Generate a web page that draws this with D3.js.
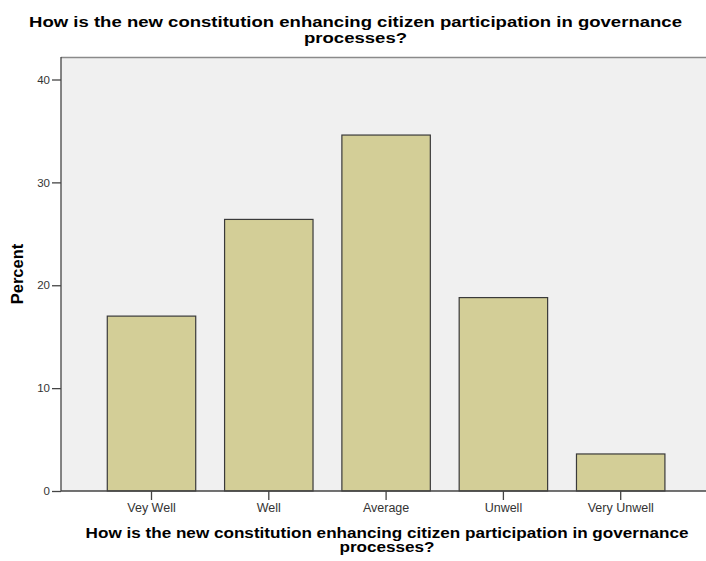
<!DOCTYPE html>
<html><head><meta charset="utf-8">
<script src="https://cdn.jsdelivr.net/npm/d3@7"></script>
<style>body{margin:0;background:#fff}svg{display:block}text{font-family:"Liberation Sans",Arial,sans-serif}</style>
</head><body>
<script>
const categories = ["Vey Well", "Well", "Average", "Unwell", "Very Unwell"];
const percents = [17.0, 26.4, 34.6, 18.8, 3.6];
const yTicks = [0, 10, 20, 30, 40];
const titleLines = ["How is the new constitution enhancing citizen participation in governance", "processes?"];
const yTitle = "Percent";

const W = 706, H = 561;
const svg = d3.select("body").append("svg").attr("width", W).attr("height", H);

const plot = {left: 61, right: 706, top: 57, bottom: 491};
const y = d3.scaleLinear().domain([0, 40]).range([491, 79.5]);
const x = d3.scaleBand().domain(categories).range([92.85, 679.35]).paddingInner(0.246).paddingOuter(0.123);

svg.append("rect").attr("x", plot.left).attr("y", plot.top)
  .attr("width", plot.right - plot.left).attr("height", plot.bottom - plot.top)
  .attr("fill", "#f0f0f0");
svg.append("line").attr("x1", plot.left).attr("x2", plot.right).attr("y1", plot.top + 0.5).attr("y2", plot.top + 0.5)
  .attr("stroke", "#8a8a8a").attr("stroke-width", 1.5);

svg.selectAll("rect.bar").data(percents).join("rect").attr("class", "bar")
  .attr("x", (d, i) => x(categories[i]))
  .attr("y", d => y(d))
  .attr("width", x.bandwidth())
  .attr("height", d => y(0) - y(d))
  .attr("fill", "#d3ce97").attr("stroke", "#3a3a3a").attr("stroke-width", 1.2);

const ff = '"Liberation Sans",Arial,sans-serif';
// y axis
const yAxis = svg.append("g").attr("transform", `translate(${plot.left},0)`)
  .call(d3.axisLeft(y).tickValues(yTicks).tickSize(9).tickPadding(2).tickFormat(d3.format("d")));
yAxis.select(".domain").attr("d", `M0,${plot.top}V${plot.bottom}`).attr("stroke", "#444").attr("stroke-width", 1.3);
yAxis.selectAll(".tick line").attr("stroke", "#444").attr("stroke-width", 1.3);
yAxis.selectAll(".tick text").attr("font-size", 11.5).attr("fill", "#333").style("font-family", ff);

// x axis
const xAxis = svg.append("g").attr("transform", `translate(0,${plot.bottom})`)
  .call(d3.axisBottom(x).tickSize(9).tickPadding(3));
xAxis.select(".domain").attr("d", `M${plot.left},0H${plot.right}`).attr("stroke", "#444").attr("stroke-width", 1.3);
xAxis.selectAll(".tick line").attr("stroke", "#444").attr("stroke-width", 1.3);
xAxis.selectAll(".tick text").attr("font-size", 12.5).attr("fill", "#333").style("font-family", ff);

// titles, horizontally stretched to the reference widths
function title(cx, y0, gap, fs, targetW) {
  const g = svg.append("g");
  const texts = titleLines.map((s, i) => g.append("text").attr("text-anchor", "middle")
    .attr("font-weight", "bold").attr("font-size", fs).attr("fill", "#000")
    .attr("x", 0).attr("y", y0 + i * gap).text(s));
  const w = texts[0].node().getComputedTextLength();
  const sx = targetW / w;
  g.attr("transform", `translate(${cx},0) scale(${sx},1)`);
}
title(355.5, 27, 16, 15, 653);
title(387, 538, 14, 14.5, 603);

svg.append("text").attr("transform", `translate(23,${(plot.top + plot.bottom) / 2}) rotate(-90)`)
  .attr("text-anchor", "middle").attr("font-weight", "bold").attr("font-size", 16.5).text(yTitle);
</script>
</body></html>
